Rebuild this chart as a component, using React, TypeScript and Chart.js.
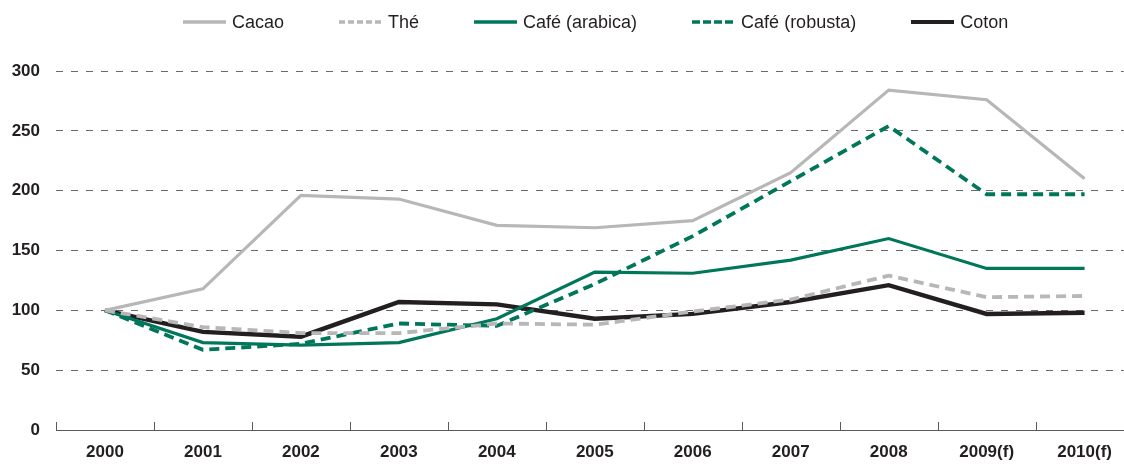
import React, { useEffect, useRef } from 'react';
import { Chart, registerables } from 'chart.js';

Chart.register(...registerables);

const categories = ['2000', '2001', '2002', '2003', '2004', '2005', '2006', '2007', '2008', '2009(f)', '2010(f)'];
const cacao = [100, 118, 196, 193, 171, 169, 175, 215, 284, 276, 210];
const the = [100, 86, 81, 81, 89, 88, 99, 109, 129, 111, 112];
const arabica = [100, 73, 71, 73, 93, 132, 131, 142, 160, 135, 135];
const robusta = [100, 67, 72, 89, 87, 122, 162, 208, 254, 197, 197];
const coton = [100, 82, 78, 107, 105, 93, 97, 107, 121, 97, 98];
const yTicks = [0, 50, 100, 150, 200, 250, 300];

const seriesNames = ['Cacao', 'Thé', 'Café (arabica)', 'Café (robusta)', 'Coton'];
const seriesValues = [cacao, the, arabica, robusta, coton];
const seriesColors = ['#B7B7B7', '#B7B7B7', '#00775A', '#00775A', '#231F20'];
const seriesWidths = [3.2, 3.8, 3.2, 3.8, 4.4];
const seriesDashes: number[][] = [[], [10, 6], [], [10, 6], []];
const legendDashes = ['', '6 3', '', '8 3', ''];

const FONT = '"Liberation Sans", Arial, Helvetica, sans-serif';
const TEXT = '#231F20';

const xTickMarks = {
  id: 'xTickMarks',
  beforeDatasetsDraw(chart: any) {
    const s = chart.scales.x;
    const ctx = chart.ctx;
    const y = chart.chartArea.bottom;
    ctx.save();
    ctx.strokeStyle = '#5a5a5a';
    ctx.lineWidth = 1;
    categories.forEach((_, i) => {
      const x = Math.round(s.getPixelForValue(i - 0.5)) + 0.5;
      ctx.beginPath();
      ctx.moveTo(x, y);
      ctx.lineTo(x, y - 8);
      ctx.stroke();
    });
    ctx.restore();
  },
};

export default function App() {
  const ref = useRef<HTMLCanvasElement | null>(null);

  useEffect(() => {
    if (!ref.current) return;
    const chart = new Chart(ref.current, {
      type: 'line',
      data: {
        datasets: seriesNames.map((name, k) => ({
          label: name,
          data: seriesValues[k].map((v, i) => ({ x: i, y: v })),
          borderColor: seriesColors[k],
          backgroundColor: seriesColors[k],
          borderWidth: seriesWidths[k],
          borderDash: seriesDashes[k],
          pointRadius: 0,
          tension: 0,
          fill: false,
        })),
      },
      options: {
        animation: false,
        responsive: true,
        maintainAspectRatio: false,
        layout: { padding: { top: 71, left: 12, right: 0, bottom: 3 } },
        plugins: {
          legend: { display: false },
          tooltip: { enabled: false },
        },
        scales: {
          x: {
            type: 'linear',
            min: -0.5,
            max: 10.4,
            afterBuildTicks: (s: any) => {
              s.ticks = categories.map((_, i) => ({ value: i }));
            },
            afterFit: (s: any) => {
              s.height = 33;
            },
            ticks: {
              callback: (v: any) => categories[v as number] ?? '',
              font: { family: FONT, size: 17, weight: 'bold' },
              color: TEXT,
              padding: 12,
              autoSkip: false,
              maxRotation: 0,
            },
            grid: { display: true, drawOnChartArea: false, drawTicks: false },
            border: { display: true, color: '#5a5a5a', width: 1 },
          },
          y: {
            min: 0,
            max: 300,
            afterBuildTicks: (s: any) => {
              s.ticks = yTicks.map((v) => ({ value: v }));
            },
            afterFit: (s: any) => {
              s.width = 44;
            },
            ticks: {
              font: { family: FONT, size: 17, weight: 'bold' },
              color: TEXT,
              padding: 16,
            },
            grid: {
              color: (c: any) => (c.tick && c.tick.value === 0 ? 'rgba(0,0,0,0)' : '#6a6a6a'),
              lineWidth: 1,
              drawTicks: false,
            },
            border: { display: false, dash: [7, 8] },
          },
        },
      },
      plugins: [xTickMarks],
    } as any);
    return () => chart.destroy();
  }, []);

  return (
    <div style={{ position: 'fixed', left: 0, top: 0, width: 1124, height: 466, background: '#fff' }}>
      <canvas ref={ref} style={{ display: 'block' }} />
      <div
        style={{
          position: 'absolute',
          left: 183,
          top: 11,
          height: 22,
          display: 'flex',
          alignItems: 'center',
          fontFamily: FONT,
          fontSize: 18,
          color: TEXT,
          whiteSpace: 'nowrap',
        }}
      >
        {seriesNames.map((name, k) => (
          <div key={name} style={{ display: 'flex', alignItems: 'center', marginRight: 55 }}>
            <svg width={43} height={6} style={{ display: 'block' }}>
              <line
                x1={0}
                y1={3}
                x2={43}
                y2={3}
                stroke={seriesColors[k]}
                strokeWidth={k === 4 ? 4 : 3.5}
                strokeDasharray={legendDashes[k] || undefined}
              />
            </svg>
            <span style={{ marginLeft: 6 }}>{name}</span>
          </div>
        ))}
      </div>
    </div>
  );
}
